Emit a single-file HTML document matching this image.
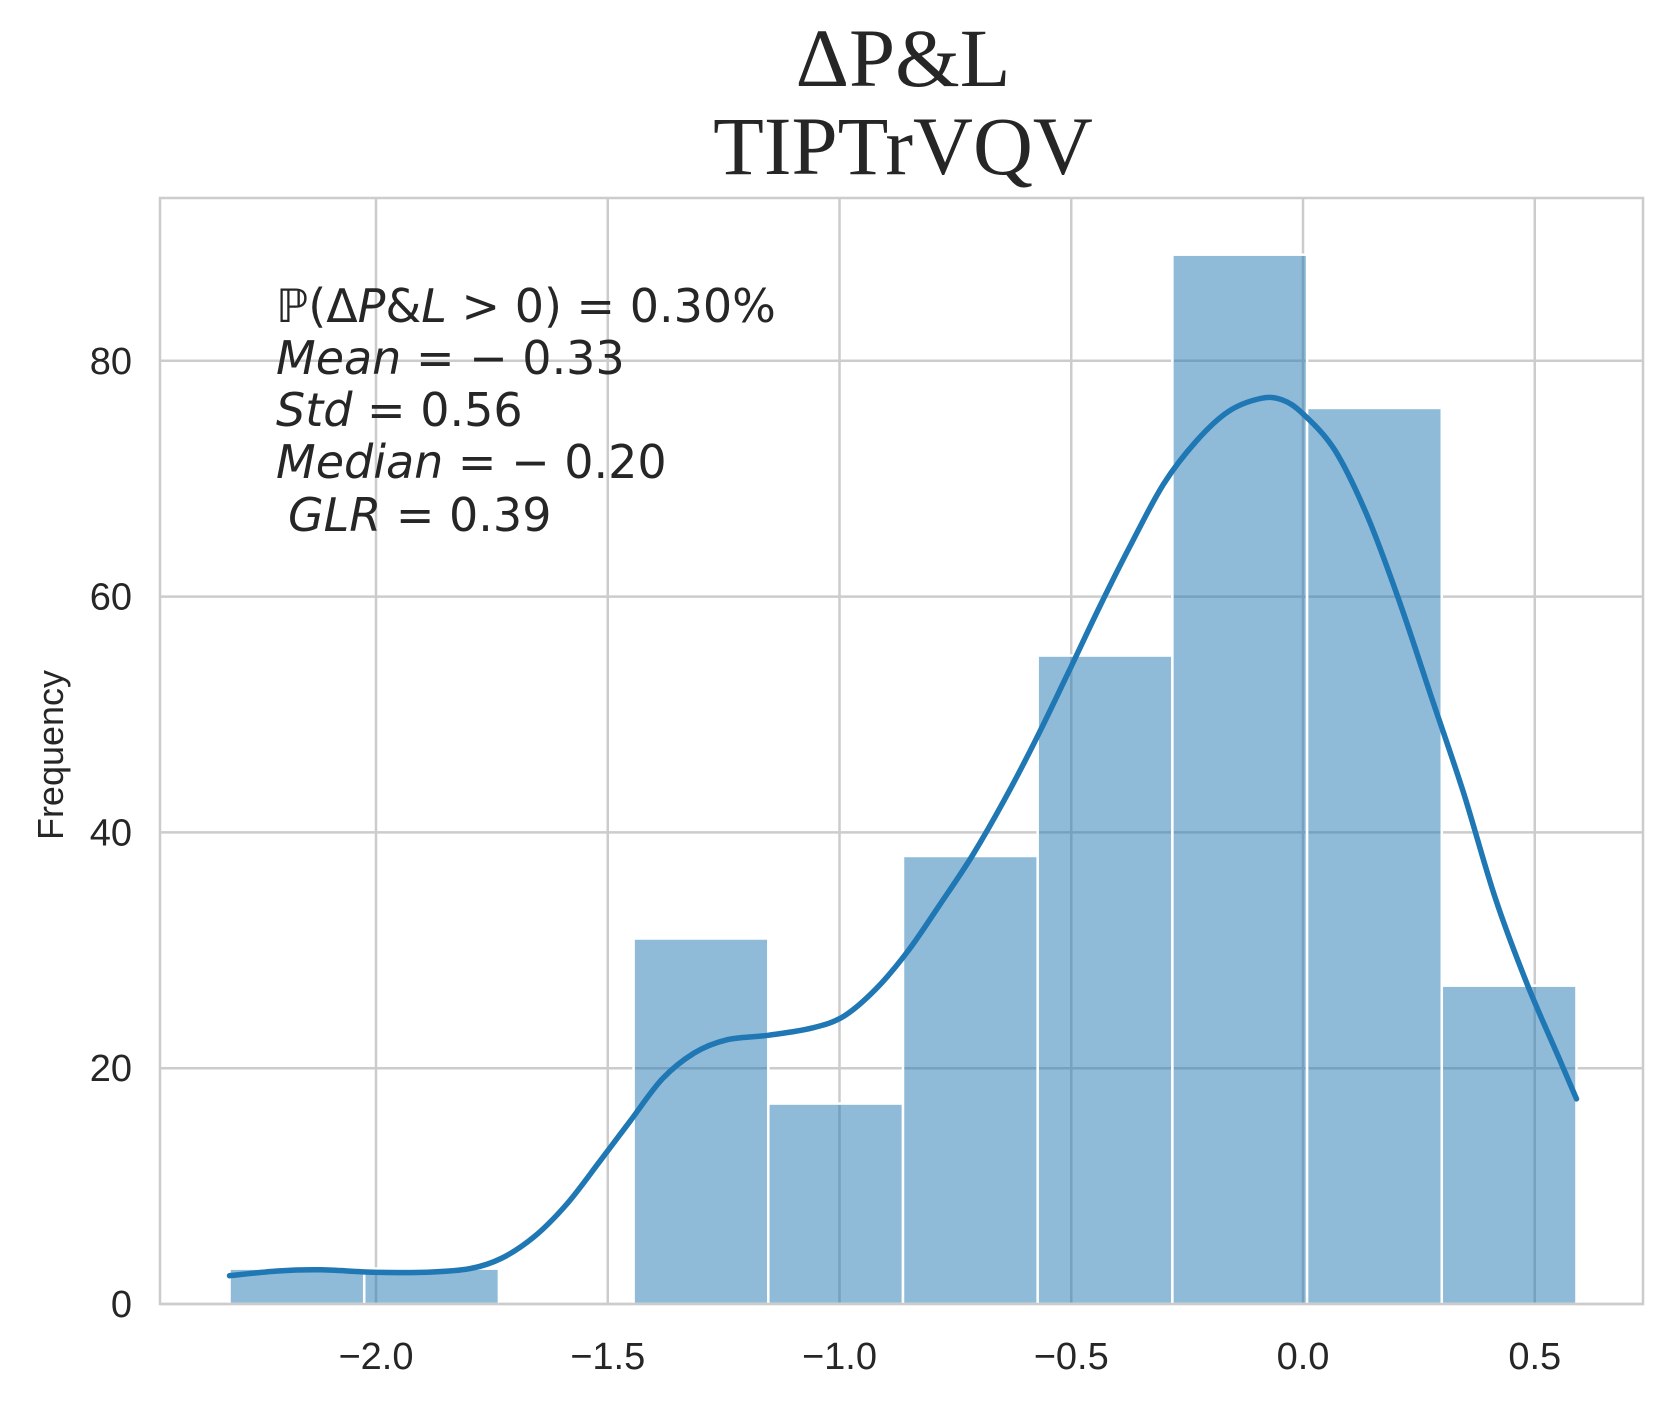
<!DOCTYPE html>
<html><head><meta charset="utf-8"><style>
html,body{margin:0;padding:0;background:#fff;}
svg{display:block;}
</style></head><body>
<svg id="chart" width="1678" height="1404" xmlns="http://www.w3.org/2000/svg">
<rect width="1678" height="1404" fill="#fff"/>
<text x="903" y="86" text-anchor="middle" font-family="Liberation Serif, serif" font-size="83" fill="#262626">ΔP&amp;L</text>
<text x="903" y="174" text-anchor="middle" font-family="Liberation Serif, serif" font-size="83" fill="#262626">TIPTrVQV</text>
<g id="grid"></g><g id="bars"></g><g id="kde"></g><g id="ticks"></g>
<rect x="160" y="198" width="1483" height="1106" fill="none" stroke="#cccccc" stroke-width="2.5"/>
<g font-family="DejaVu Sans, sans-serif" font-size="46" fill="#262626">
<text x="276" y="322">ℙ(Δ<tspan font-style="italic">P</tspan>&amp;<tspan font-style="italic">L</tspan> &gt; 0) = 0.30%</text>
<text x="276" y="374"><tspan font-style="italic">Mean</tspan> = − 0.33</text>
<text x="276" y="426"><tspan font-style="italic">Std</tspan> = 0.56</text>
<text x="276" y="478"><tspan font-style="italic">Median</tspan> = − 0.20</text>
<text x="276" y="531"><tspan font-style="italic" dx="12">GLR</tspan> = 0.39</text>
</g>
<text transform="translate(63,755) rotate(-90)" text-anchor="middle" font-family="Liberation Sans, sans-serif" font-size="36" fill="#262626">Frequency</text>
</svg>
<script>
const binStart = -2.316;
const binWidth = 0.2906;
const counts = [3, 3, 0, 31, 17, 38, 55, 89, 76, 27];
const kdeX = [-2.316,-2.212,-2.120,-2.005,-1.889,-1.797,-1.728,-1.659,-1.590,-1.521,-1.452,-1.382,-1.313,-1.244,-1.152,-1.060,-0.991,-0.922,-0.853,-0.783,-0.714,-0.645,-0.576,-0.507,-0.438,-0.369,-0.300,-0.230,-0.161,-0.092,-0.046,0,0.069,0.138,0.207,0.276,0.346,0.415,0.484,0.553,0.590];
const kdeY = [2.4,2.8,2.9,2.7,2.7,3.0,3.9,5.7,8.4,11.9,15.5,19.1,21.3,22.4,22.8,23.4,24.4,26.7,29.9,33.9,38.0,42.7,47.9,53.5,59.2,64.6,69.6,73.2,75.7,76.8,76.7,75.5,72.4,66.9,59.7,51.6,43.4,34.4,27.1,20.8,17.4];
const xTicks = [-2.0, -1.5, -1.0, -0.5, 0.0, 0.5];
const xTickLabels = ["−2.0", "−1.5", "−1.0", "−0.5", "0.0", "0.5"];
const yTicks = [0, 20, 40, 60, 80];
const yTickLabels = ["0", "20", "40", "60", "80"];

const L=160,R=1643,T=198,B=1304;
const X = v => 1303 + v*463.5;
const Y = v => B - v*11.79;
const NS="http://www.w3.org/2000/svg";
function mk(tag, parent, attrs){const e=document.createElementNS(NS,tag);for(const k in attrs)e.setAttribute(k,attrs[k]);parent.appendChild(e);return e;}
const grid=document.getElementById('grid'), bars=document.getElementById('bars'), kde=document.getElementById('kde'), ticks=document.getElementById('ticks');
xTicks.forEach((t,i)=>{
  const g=mk('line',grid,{x1:X(t),x2:X(t),y1:T,y2:B,stroke:'#cccccc','stroke-width':2.5});
  
  
  const tx=mk('text',ticks,{x:X(t),y:1369,'text-anchor':'middle','font-family':'Liberation Sans, sans-serif','font-size':38,fill:'#262626'});
  tx.textContent=xTickLabels[i];
  
  
});
yTicks.forEach((t,i)=>{
  const g=mk('line',grid,{x1:L,x2:R,y1:Y(t),y2:Y(t),stroke:'#cccccc','stroke-width':2.5});
  
  
  const tx=mk('text',ticks,{x:132,y:Y(t)+13,'text-anchor':'end','font-family':'Liberation Sans, sans-serif','font-size':38,fill:'#262626'});
  tx.textContent=yTickLabels[i];
  
  
});
counts.forEach((c,i)=>{
  if(c<=0) return;
  const x0=X(binStart+i*binWidth), x1=X(binStart+(i+1)*binWidth);
  const r=mk('rect',bars,{x:x0,y:Y(c),width:x1-x0,height:Y(0)-Y(c),fill:'#1f77b4','fill-opacity':0.5,stroke:'#ffffff','stroke-width':2.5});
  
  
});
const pts=kdeX.map((x,i)=>[X(x),Y(kdeY[i])]);
let d='M'+pts[0][0].toFixed(1)+','+pts[0][1].toFixed(1);
for(let i=0;i<pts.length-1;i++){
  const p0=pts[Math.max(0,i-1)],p1=pts[i],p2=pts[i+1],p3=pts[Math.min(pts.length-1,i+2)];
  const c1=[p1[0]+(p2[0]-p0[0])/6,p1[1]+(p2[1]-p0[1])/6];
  const c2=[p2[0]-(p3[0]-p1[0])/6,p2[1]-(p3[1]-p1[1])/6];
  d+=' C'+c1[0].toFixed(1)+','+c1[1].toFixed(1)+' '+c2[0].toFixed(1)+','+c2[1].toFixed(1)+' '+p2[0].toFixed(1)+','+p2[1].toFixed(1);
}
const p=mk('path',kde,{d:d,fill:'none',stroke:'#1f77b4','stroke-width':5.5,'stroke-linejoin':'round','stroke-linecap':'round'});


</script>
</body></html>
